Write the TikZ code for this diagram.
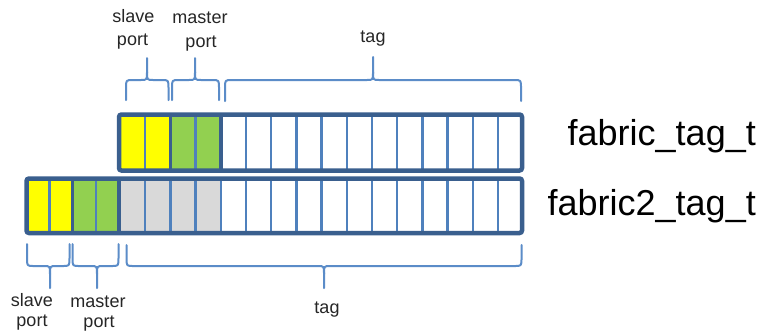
\documentclass[tikz,border=0pt]{standalone}
\usepackage{fontspec}
\setmainfont{Liberation Sans}
\definecolor{framec}{HTML}{3A5F8E}
\definecolor{cellline}{HTML}{4F81BD}
\definecolor{bracec}{HTML}{5B8CC8}
\definecolor{portyellow}{HTML}{FFFF00}
\definecolor{portgreen}{HTML}{92D050}
\definecolor{taggray}{HTML}{D9D9D9}
\tikzset{
  outerframe/.style={draw=framec,line width=4.5pt,rounded corners=2.5pt},
  thinsep/.style={draw=cellline,line width=2.5pt},
  groupsep/.style={draw=framec,line width=3.5pt},
  bracestyle/.style={draw=bracec,line width=2pt,line cap=round,line join=round},
  lbl/.style={font=\fontsize{18}{22}\selectfont,anchor=base,inner sep=0pt,text=black!85},
  tname/.style={font=\fontsize{36}{40}\selectfont,anchor=base east,inner sep=0pt,text=black}
}
% x1, xm, x2, yend, yh, ytip, s
\newcommand\mybrace[7]{%
  \draw[bracestyle] ({#1},{#4}) -- ({#1},{#5+(#7)}) .. controls ({#1},{#5}) .. ({#1+7},{#5}) -- ({#2-6},{#5}) .. controls ({#2},{#5}) .. ({#2},{#5-(#7)}) -- ({#2},{#6});
  \draw[bracestyle] ({#2},{#5-(#7)}) .. controls ({#2},{#5}) .. ({#2+6},{#5}) -- ({#3-7},{#5}) .. controls ({#3},{#5}) .. ({#3},{#5+(#7)}) -- ({#3},{#4});
}
\begin{document}
\begin{tikzpicture}[x=1pt,y=-1pt]
\useasboundingbox[fill=white] (0,0) rectangle (767,333);

% ---- top bar: fabric_tag_t ----
\fill[portyellow] (119,114.5) rectangle (170.4,170.5);
\fill[portgreen] (170.4,114.5) rectangle (220.8,170.5);
\foreach \i in {1,3,5,6,7,8,9,10,11,12,13,14,15}
  \draw[thinsep] ({120+25.2*\i},114.5) -- ({120+25.2*\i},170.5);
\foreach \i in {2,4}
  \draw[groupsep] ({120+25.2*\i},114.5) -- ({120+25.2*\i},170.5);
\draw[outerframe] (119,114.5) rectangle (522,170.5);

% ---- bottom bar: fabric2_tag_t ----
\fill[portyellow] (26.5,178.5) rectangle (72.7,233);
\fill[portgreen] (72.7,178.5) rectangle (119,233);
\fill[taggray] (119,178.5) rectangle (220.8,233);
\foreach \x in {49.6,95.8}
  \draw[thinsep] (\x,178.5) -- (\x,233);
\foreach \i in {1,...,15}
  \draw[thinsep] ({120+25.2*\i},178.5) -- ({120+25.2*\i},233);
\foreach \x in {72.7,119}
  \draw[groupsep] (\x,178.5) -- (\x,233);
\draw[outerframe] (26.5,178.5) rectangle (522,233);

% ---- braces ----
\mybrace{126}{147}{168.5}{100}{80}{58}{8}
\mybrace{172}{195}{219}{100}{80}{58}{8}
\mybrace{225}{373}{521}{101}{80}{57}{8}
\mybrace{27}{50}{69.5}{244}{266}{288}{-8}
\mybrace{72.5}{97}{118.5}{244}{266}{288}{-8}
\mybrace{126.5}{324}{521.5}{245}{266}{288}{-8}

% ---- labels ----
\node[lbl] (tslave) at (133.5,22) {slave};
\node[lbl] (tslaveport) at (132.5,45.5) {port};
\node[lbl] (tmaster) at (200,23.5) {master};
\node[lbl] (tmasterport) at (201,47) {port};
\node[lbl] (ttag) at (373,42) {tag};
\node[lbl] (bslave) at (32,306) {slave};
\node[lbl] (bslaveport) at (32,326.5) {port};
\node[lbl] (bmaster) at (98,307) {master};
\node[lbl] (bmasterport) at (99,327) {port};
\node[lbl] (btag) at (327,313) {tag};

\node[tname] (n1) at (756,145) {fabric\_tag\_t};
\node[tname] (n2) at (756,215) {fabric2\_tag\_t};
\end{tikzpicture}
\end{document}
